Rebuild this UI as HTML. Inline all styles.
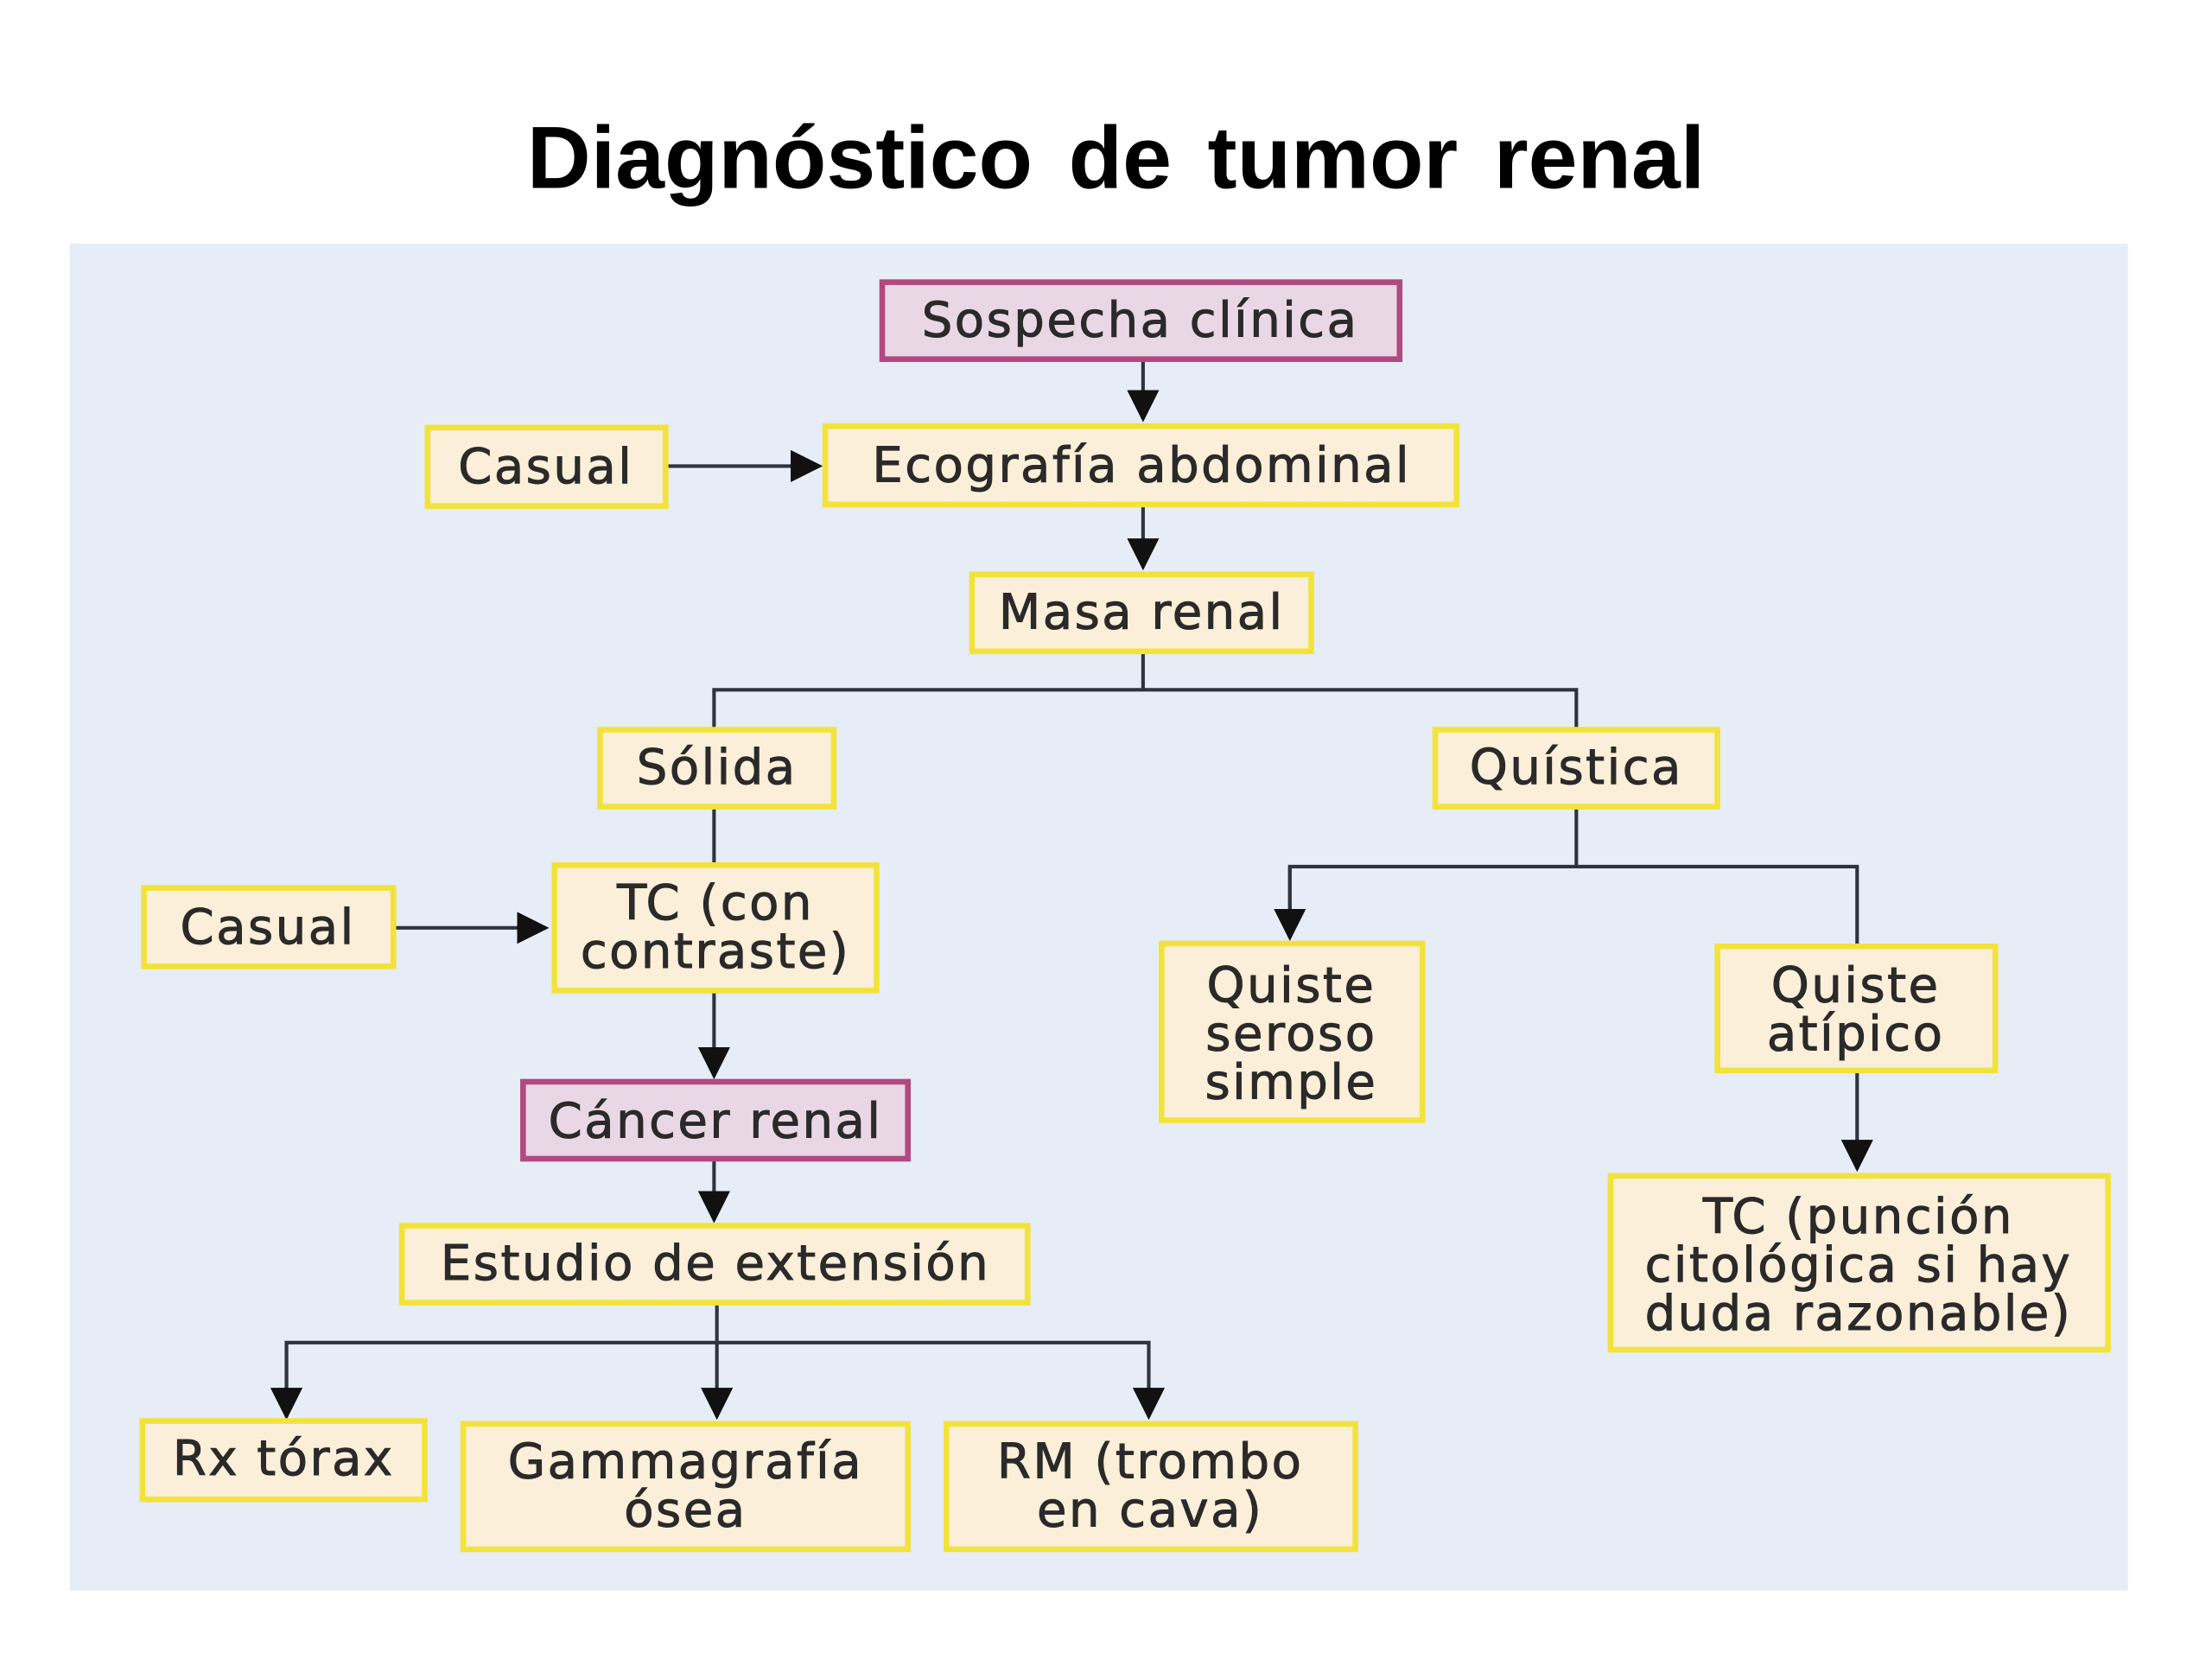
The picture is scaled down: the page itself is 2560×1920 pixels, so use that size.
<!DOCTYPE html>
<html><head><meta charset="utf-8"><style>
html,body{margin:0;padding:0;background:#fff;width:2560px;height:1920px;overflow:hidden}
svg{display:block}
text{font-family:"DejaVu Sans","Liberation Sans",sans-serif;fill:#2a2a2a;text-anchor:middle}
.b{fill:#fcefd9;stroke:#f2e23c;stroke-width:4}
.p{fill:#ead7e6;stroke:#b04a80;stroke-width:4}
.l{stroke:#2c3440;stroke-width:2.5;fill:none}
.t{font-size:34px;letter-spacing:1.5px;stroke:#2a2a2a;stroke-width:0.6}
</style></head><body>
<svg width="2560" height="1920" viewBox="0 0 1552 1164" preserveAspectRatio="none">
<defs>
<marker id="m" viewBox="0 0 10 10" refX="9" refY="5" markerWidth="9" markerHeight="9" orient="auto"><path d="M0,0L10,5L0,10z" fill="#111"/></marker></defs>
<text x="783" y="132" style="font-family:'Liberation Sans',sans-serif;font-size:62px;font-weight:bold;fill:#000;word-spacing:8px">Diagnóstico  de  tumor  renal</text>
<rect x="49" y="171" width="1444" height="945" fill="#e6edf6"/>
<g class="l">
<line x1="802" y1="252" x2="802" y2="294" marker-end="url(#m)"/>
<line x1="802" y1="354" x2="802" y2="398" marker-end="url(#m)"/>
<line x1="467" y1="327" x2="575" y2="327" marker-end="url(#m)"/>
<polyline points="802,457 802,484"/>
<polyline points="501,512 501,484 1106,484 1106,512"/>
<line x1="501" y1="566" x2="501" y2="607"/>
<line x1="276" y1="651" x2="383" y2="651" marker-end="url(#m)"/>
<line x1="501" y1="695" x2="501" y2="755" marker-end="url(#m)"/>
<line x1="501" y1="813" x2="501" y2="856" marker-end="url(#m)"/>
<line x1="503" y1="914" x2="503" y2="994" marker-end="url(#m)"/>
<polyline points="201,994 201,942 806,942 806,994" marker-end="url(#m)"/>
<line x1="201" y1="942" x2="201" y2="994" marker-end="url(#m)"/>
<line x1="1106" y1="566" x2="1106" y2="608"/>
<polyline points="905,658 905,608 1303,608 1303,664"/>
<line x1="905" y1="608" x2="905" y2="658" marker-end="url(#m)"/>
<line x1="1303" y1="751" x2="1303" y2="820" marker-end="url(#m)"/>
</g>
<rect class="p" x="619" y="198" width="363" height="54"/><text class="t" x="800" y="236">Sospecha clínica</text>
<rect class="b" x="300" y="300" width="167" height="55"/><text class="t" x="383" y="339">Casual</text>
<rect class="b" x="579" y="299" width="443" height="55"/><text class="t" x="801" y="338">Ecografía abdominal</text>
<rect class="b" x="682" y="403" width="238" height="54"/><text class="t" x="801" y="441">Masa renal</text>
<rect class="b" x="421" y="512" width="164" height="54"/><text class="t" x="503" y="550">Sólida</text>
<rect class="b" x="1007" y="512" width="198" height="54"/><text class="t" x="1106" y="550">Quística</text>
<rect class="b" x="101" y="623" width="175" height="55"/><text class="t" x="188" y="662">Casual</text>
<rect class="b" x="389" y="607" width="226" height="88"/><text class="t" x="502" y="645">TC (con</text><text class="t" x="502" y="679">contraste)</text>
<rect class="p" x="367" y="759" width="270" height="54"/><text class="t" x="502" y="798">Cáncer renal</text>
<rect class="b" x="282" y="860" width="439" height="54"/><text class="t" x="502" y="898">Estudio de extensión</text>
<rect class="b" x="100" y="997" width="198" height="55"/><text class="t" x="199" y="1035">Rx tórax</text>
<rect class="b" x="325" y="999" width="312" height="88"/><text class="t" x="481" y="1037">Gammagrafía</text><text class="t" x="481" y="1071">ósea</text>
<rect class="b" x="664" y="999" width="287" height="88"/><text class="t" x="807" y="1037">RM (trombo</text><text class="t" x="807" y="1071">en cava)</text>
<rect class="b" x="815" y="662" width="183" height="124"/><text class="t" x="906" y="703">Quiste</text><text class="t" x="906" y="737">seroso</text><text class="t" x="906" y="771">simple</text>
<rect class="b" x="1205" y="664" width="195" height="87"/><text class="t" x="1302" y="703">Quiste</text><text class="t" x="1302" y="737">atípico</text>
<rect class="b" x="1130" y="825" width="349" height="122"/><text class="t" x="1304" y="865">TC (punción</text><text class="t" x="1304" y="899">citológica si hay</text><text class="t" x="1304" y="933">duda razonable)</text>
</svg>
</body></html>
